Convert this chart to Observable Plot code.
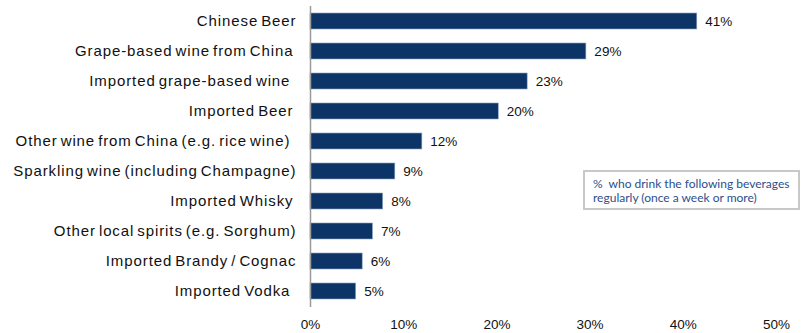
<!DOCTYPE html>
<html>
<head>
<meta charset="utf-8">
<script src="https://cdn.jsdelivr.net/npm/d3@7"></script>
<script src="https://cdn.jsdelivr.net/npm/@observablehq/plot@0.6"></script>
<style>
  html, body { margin: 0; padding: 0; background: #fff; }
  #wrap { position: relative; width: 806px; height: 333px; }
  #note {
    position: absolute; left: 583px; top: 170px; width: 217px; height: 40px;
    border: 2px solid #c8c8c8; box-sizing: border-box;
    font-family: Lato, "Liberation Sans", sans-serif; font-size: 12px;
    color: #2b4f8c; line-height: 14px; padding: 5px 0 0 8px; background: #fff;
    white-space: pre;
  }
  .ylab text { letter-spacing: 0.9px; word-spacing: -2px; }
</style>
</head>
<body>
<div id="wrap"></div>
<script>
const categories = [
  "Chinese Beer",
  "Grape-based wine from China\u00A0",
  "Imported grape-based wine\u00A0\u00A0",
  "Imported Beer\u00A0",
  "Other wine from China (e.g. rice wine)\u00A0\u00A0",
  "Sparkling wine (including Champagne)",
  "Imported Whisky\u00A0",
  "Other local spirits (e.g. Sorghum)",
  "Imported Brandy / Cognac",
  "Imported Vodka\u00A0\u00A0"
];
// bar lengths (percent)
const values = [41.5, 29.6, 23.3, 20.2, 12.0, 9.1, 7.8, 6.7, 5.6, 4.9];
// printed data labels
const valueLabels = ["41%", "29%", "23%", "20%", "12%", "9%", "8%", "7%", "6%", "5%"];
const xTicks = [0, 10, 20, 30, 40, 50];
const noteText = ["%  who drink the following beverages", "regularly (once a week or more)"];

const data = categories.map((c, i) => ({category: c, value: values[i], label: valueLabels[i]}));

const chart = Plot.plot({
  width: 806,
  height: 333,
  marginLeft: 310,
  marginRight: 30,
  marginTop: 6,
  marginBottom: 26,
  style: {fontFamily: "'Liberation Sans', Arial, sans-serif", background: "#fff"},
  x: {domain: [0, 50], ticks: xTicks},
  y: {domain: categories, paddingInner: 0.46, paddingOuter: 0.23},
  marks: [
    Plot.barX(data, {y: "category", x: "value", fill: "#0c3466", stroke: "#8fa3c0", strokeWidth: 0.6}),
    Plot.text(data, {y: "category", x: "value", text: "label", textAnchor: "start", dx: 8, fontSize: 13.5, fill: "#111"}),
    Plot.ruleX([0], {stroke: "#9a9a9a", strokeWidth: 1.5}),
    Plot.ruleY([0], {frameAnchor: "bottom", stroke: "#9a9a9a", strokeWidth: 1.5}),
    Plot.axisX({ticks: xTicks, tickSize: 0, tickPadding: 12, tickFormat: d => d + "%", fontSize: 13.5, fill: "#111", label: null}),
    Plot.axisY({tickSize: 0, tickPadding: 14, fontSize: 15, fill: "#111", label: null, className: "ylab"})
  ]
});
document.getElementById("wrap").appendChild(chart);
const note = document.createElement("div");
note.id = "note";
note.textContent = noteText.join("\n");
document.getElementById("wrap").appendChild(note);
</script>
</body>
</html>
